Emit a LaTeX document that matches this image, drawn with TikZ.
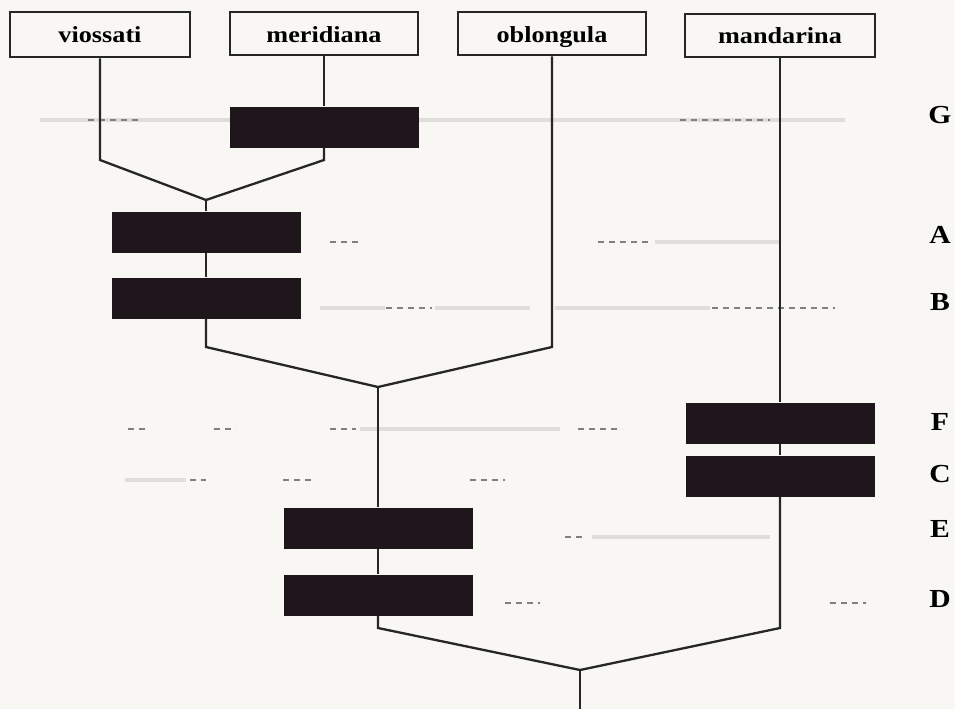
\documentclass[tikz,border=0pt]{standalone}
\usepackage{fontspec}
\setmainfont{Liberation Serif}
\newfontfamily\wideserif[FakeStretch=1.14]{Liberation Serif}
\usetikzlibrary{positioning,calc}
\definecolor{paper}{RGB}{248,247,244}
\definecolor{inkBox}{RGB}{30,22,26}
\definecolor{faintLine}{RGB}{222,221,217}
\tikzset{
    taxon/.style={rectangle,draw=black!85,line width=2pt,fill=paper,inner sep=0pt,
        minimum width=188pt,minimum height=43pt,text height=20pt,text depth=4pt,
        font=\wideserif\fontsize{23}{27}\selectfont\bfseries},
    hidden/.style={rectangle,fill=inkBox,inner sep=0pt,minimum width=189pt,minimum height=41pt},
    lvl/.style={anchor=base,font=\wideserif\fontsize{26}{30}\selectfont\bfseries},
    branch/.style={draw=black!85,line width=2.3pt},
    guide/.style={draw=faintLine,line width=4pt},
    guidedash/.style={draw=black!50,line width=1.1pt,dash pattern=on 6pt off 5pt}
}
\begin{document}
\begin{tikzpicture}[x=1pt,y=-1pt]
    \fill[paper] (0,0) rectangle (955,709);
    \useasboundingbox (0,0) rectangle (955,709);

    % faint guide lines of the levels
    \draw[guide] (40,120) -- (230,120) (418,120) -- (845,120);
    \draw[guidedash] (88,120) -- (140,120) (680,120) -- (770,120);
    \draw[guidedash] (330,242) -- (362,242) (598,242) -- (650,242);
    \draw[guide] (655,242) -- (780,242);
    \draw[guide] (320,308) -- (385,308) (435,308) -- (530,308) (555,308) -- (710,308);
    \draw[guidedash] (386,308) -- (432,308) (712,308) -- (835,308);
    \draw[guidedash] (128,429) -- (145,429) (214,429) -- (236,429) (330,429) -- (356,429) (578,429) -- (622,429);
    \draw[guide] (360,429) -- (560,429);
    \draw[guide] (125,480) -- (186,480);
    \draw[guidedash] (190,480) -- (206,480) (283,480) -- (312,480) (470,480) -- (505,480);
    \draw[guidedash] (565,537) -- (582,537);
    \draw[guide] (592,537) -- (770,537);
    \draw[guidedash] (505,603) -- (540,603) (830,603) -- (866,603);

    % top taxa
    \node[taxon,minimum width=180pt,minimum height=45pt] (vio) at (100,35) {viossati};
    \node[taxon] (mer) at (324,34) {meridiana};
    \node[taxon] (obl) at (552,34) {oblongula};
    \node[taxon,minimum width=190pt] (man) at (780,36) {mandarina};

    % hidden character boxes
    \node[hidden] (g) at (324,127) {};
    \node[hidden] (a) at (206,232) {};
    \node[hidden] (b) at (206,298) {};
    \node[hidden] (f) at (780,423) {};
    \node[hidden] (c) at (780,476) {};
    \node[hidden] (e) at (378,528) {};
    \node[hidden] (d) at (378,595) {};

    % bends and joins
    \coordinate (k1) at (0,160);
    \coordinate (k2) at (0,347);
    \coordinate (k3) at (0,628);
    \coordinate (j1) at (206,200);
    \coordinate (j2) at (378,387);
    \coordinate (j3) at (580,670);
    \coordinate (root) at (580,709);

    \draw[branch] (vio.south) -- (vio.south |- k1) -- (j1);
    \draw[branch] (mer.south) -- (g.north);
    \draw[branch] (g.south) -- (g.south |- k1) -- (j1);
    \draw[branch] (j1) -- (a.north);
    \draw[branch] (a.south) -- (b.north);
    \draw[branch] (b.south) -- (b.south |- k2) -- (j2);
    \draw[branch] (obl.south) -- (obl.south |- k2) -- (j2);
    \draw[branch] (j2) -- (e.north);
    \draw[branch] (e.south) -- (d.north);
    \draw[branch] (d.south) -- (d.south |- k3) -- (j3);
    \draw[branch] (man.south) -- (f.north);
    \draw[branch] (f.south) -- (c.north);
    \draw[branch] (c.south) -- (c.south |- k3) -- (j3);
    \draw[branch] (j3) -- (root);

    % level letters
    \node[lvl] (lG) at (940,123) {G};
    \node[lvl] (lA) at (940,243) {A};
    \node[lvl] (lB) at (940,310) {B};
    \node[lvl] (lF) at (940,430) {F};
    \node[lvl] (lC) at (940,482) {C};
    \node[lvl] (lE) at (940,537) {E};
    \node[lvl] (lD) at (940,607) {D};
\end{tikzpicture}
\end{document}
